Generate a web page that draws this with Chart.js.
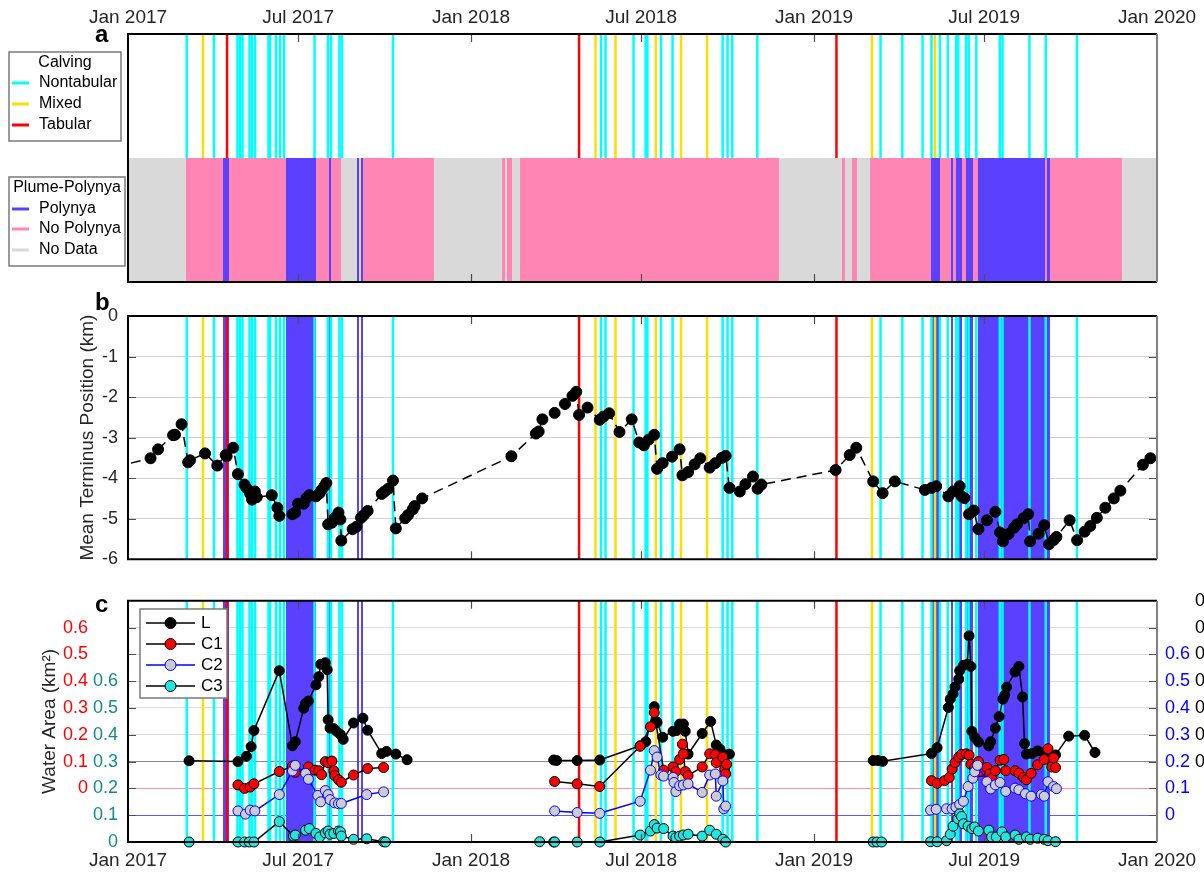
<!DOCTYPE html>
<html>
<head>
<meta charset="utf-8">
<title>Calving, plume-polynya, terminus and water area</title>
<script src="https://cdn.jsdelivr.net/npm/chart.js@4.4.1/dist/chart.umd.min.js"></script>
<style>
  html, body { margin: 0; padding: 0; overflow: hidden; background: #fff; }
  #wrap { position: relative; width: 1204px; height: 877px; overflow: hidden; }
  canvas { position: absolute; left: 0; }
</style>
</head>
<body>
<div id="wrap">
  <canvas id="panelA" width="1204" height="290" style="top:0"></canvas>
  <canvas id="panelB" width="1204" height="290" style="top:290px"></canvas>
  <canvas id="panelC" width="1240" height="297" style="top:580px"></canvas>
</div>
<script>
// days since 1 Jan 2017
const tickDays = [0, 181, 365, 546, 730, 911, 1095];
const tickLabels = ["Jan 2017", "Jul 2017", "Jan 2018", "Jul 2018", "Jan 2019", "Jul 2019", "Jan 2020"];

// calving events
const calvNontabular = [62.5, 91.5, 116.5, 119.2, 121.8, 129.3, 132, 135.2, 149.5, 151.2, 157.5, 161.8, 166,
  198.5, 212.8, 216, 225, 227.7, 282, 503.4, 508.2, 538, 550.8, 552.7, 567.2, 579.5, 632.8, 638, 643, 669.7,
  800.8, 824, 845.5, 855, 864, 872.4, 881.4, 883.5, 891.8, 894.6, 902.7, 927.7, 930.6, 959.3, 976.6, 1009.8];
const calvMixed = [79.8, 497.5, 518.8, 561.7, 588.5, 616.2, 791.7, 858.8];
const calvTabular = [105.4, 480, 753.9];

// plume-polynya status: D = no data, N = no polynya, P = polynya
const statusEdges = [0, 61.3, 101.6, 107.8, 168.1, 199.6, 213.8, 216.3, 226.9, 244, 246, 248, 250.6, 326, 398,
  401.4, 403.5, 408.5, 417.4, 692.8, 759.7, 763, 770, 776.1, 790.1, 855, 864.5, 875.8, 878.2, 881.1, 887.3,
  892.2, 898.8, 905, 975.4, 978.3, 981.6, 1057.5, 1095];
const statusCode = ["D", "N", "P", "N", "P", "N", "P", "N", "D", "P", "D", "P", "N", "D", "N",
  "D", "N", "D", "N", "D", "N", "D", "N", "D", "N", "P", "N", "P", "N", "P",
  "N", "P", "N", "P", "N", "P", "N", "D"];

// mean terminus position (km)
const termDay = [-30, 24, 32, 48, 50, 57, 64, 66, 82, 95, 104, 105, 112, 117, 124, 126, 130, 132, 135, 137,
  153, 159, 161, 175, 178, 181, 187, 190, 193, 200, 204, 206, 209, 211, 213, 217, 220, 224, 226, 227,
  239, 243, 248, 251, 255, 270, 273, 277, 282, 285, 295, 298, 303, 305, 313, 408, 434, 437, 441, 454,
  465, 473, 477, 480, 489, 502, 506, 512, 523, 536, 544, 549, 554, 560, 563, 569, 579, 587, 590, 596,
  603, 609, 619, 625, 632, 636, 640, 651, 657, 665, 670, 674, 753, 768, 775, 793, 803, 816, 848, 855,
  860, 873, 878, 885, 887, 890, 895, 900, 905, 914, 923, 928, 931, 937, 943, 946, 953, 958, 960, 969,
  975, 980, 985, 988, 1002, 1010, 1018, 1024, 1031, 1040, 1049, 1056, 1080, 1088];
const termPos = [-3.82, -3.51, -3.29, -2.94, -2.93, -2.67, -3.61, -3.56, -3.39, -3.69,
  -3.43, -3.46, -3.25, -3.90, -4.16, -4.24, -4.39, -4.53, -4.33, -4.47,
  -4.42, -4.73, -4.93, -4.89, -4.85, -4.63, -4.63, -4.49, -4.42, -4.45,
  -4.37, -4.29, -4.20, -4.12, -5.14, -5.10, -4.98, -4.85, -5.02, -5.54,
  -5.26, -5.20, -4.98, -4.91, -4.81, -4.39, -4.33, -4.26, -4.06, -5.24,
  -4.99, -4.91, -4.77, -4.69, -4.50, -3.46, -2.90, -2.85, -2.55, -2.39,
  -2.17, -1.97, -1.87, -2.44, -2.26, -2.56, -2.48, -2.40, -2.86, -2.55,
  -3.12, -3.19, -3.05, -2.93, -3.77, -3.63, -3.47, -3.29, -3.93, -3.85,
  -3.66, -3.51, -3.74, -3.63, -3.50, -3.45, -4.24, -4.33, -4.15, -3.96,
  -4.26, -4.16, -3.80, -3.43, -3.25, -4.08, -4.37, -4.08, -4.29, -4.24,
  -4.20, -4.45, -4.33, -4.20, -4.45, -4.49, -4.89, -4.80, -5.26, -5.04,
  -4.83, -5.34, -5.56, -5.38, -5.22, -5.14, -4.99, -4.89, -5.56, -5.37,
  -5.16, -5.63, -5.53, -5.45, -5.04, -5.53, -5.32, -5.18, -4.98, -4.73,
  -4.50, -4.31, -3.67, -3.51];

// water area (km2), null = gap between seasons
const dayL = [65, 117, 126, 131, 134, 161, 175, 178, 187, 189, 192, 200, 203, 205, 210, 212, 213, 215, 219, 222,
  226, 229, 240, 250, 255, 270, 275, 285, 297, 400,
  453, 456, 478, 502, 545, 551, 560, 562, 563, 569, 580, 584, 587, 591, 593, 596, 611, 620, 626, 630, 635, 640, 700,
  793, 798, 803, 855, 861, 873, 875, 878, 880, 884, 885, 889, 893, 895, 897, 898, 901, 905, 916, 918, 923, 927,
  931, 933, 935, 944, 948, 952, 954, 956, 962, 968, 975, 979, 987, 1001, 1018, 1029];
const areaL = [0.003, 0.0, 0.02, 0.056, 0.116, 0.339, 0.059, 0.074, 0.199, 0.217, 0.226, 0.286, 0.317, 0.363, 0.369,
  0.343, 0.156, 0.125, 0.123, 0.113, 0.101, 0.083, 0.144, 0.162, 0.117, 0.030, 0.038, 0.028, 0.007, null,
  0.006, 0.004, 0.004, 0.006, 0.059, 0.074, 0.205, 0.150, 0.146, 0.091, 0.113, 0.116, 0.140, 0.140, 0.113, 0.028,
  0.105, 0.150, 0.062, 0.046, 0.025, 0.028, null,
  0.004, 0.004, 0.001, 0.030, 0.052, 0.202, 0.233, 0.253, 0.278, 0.308, 0.339, 0.359, 0.363, 0.469, 0.355, 0.113,
  0.091, 0.073, 0.059, 0.074, 0.125, 0.168, 0.233, 0.248, 0.278, 0.335, 0.355, 0.241, 0.067, 0.028, 0.030, 0.040,
  0.034, 0.028, 0.025, 0.095, 0.098, 0.034];

const dayC1 = [117, 124, 130, 134, 161, 175, 178, 192, 199, 203, 206, 210, 213, 217, 219, 220, 224, 227, 240, 255, 272, 400,
  454, 478, 502, 545, 556, 560, 570, 580, 583, 587, 590, 591, 593, 596, 611, 619, 625, 626, 633, 635, 636, 637, 700,
  855, 861, 869, 874, 877, 880, 884, 887, 892, 895, 897, 901, 905, 907, 914, 917, 919, 923, 928, 932, 934, 944, 948,
  953, 956, 961, 968, 975, 979, 983, 985, 987];
const areaC1 = [0.013, 0.0, 0.005, 0.017, 0.063, 0.083, 0.060, 0.080, 0.068, 0.066, 0.051, 0.100, 0.096, 0.102, 0.066,
  0.048, 0.032, 0.023, 0.050, 0.074, 0.078, null,
  0.026, 0.017, 0.007, 0.157, 0.230, 0.283, 0.068, 0.080, 0.063, 0.108, 0.165, 0.129, 0.063, 0.048, 0.080, 0.129,
  0.126, 0.096, 0.117, 0.072, 0.054, 0.090, null,
  0.029, 0.019, 0.029, 0.041, 0.072, 0.096, 0.117, 0.127, 0.129, 0.124, 0.090, 0.078, 0.100, 0.063, 0.078, 0.054,
  0.038, 0.066, 0.105, 0.108, 0.066, 0.066, 0.057, 0.041, 0.032, 0.056, 0.088, 0.108, 0.148, 0.080, 0.114, 0.078];

const dayC2 = [117, 125, 130, 135, 161, 175, 178, 189, 192, 202, 205, 210, 213, 215, 220, 224, 227, 254, 272, 400,
  454, 478, 502, 545, 556, 560, 563, 567, 570, 580, 581, 583, 587, 591, 596, 611, 619, 625, 626, 633, 634, 636, 700,
  854, 860, 871, 877, 881, 885, 889, 894, 899, 901, 904, 914, 918, 923, 928, 934, 944, 948, 955, 961, 972, 975, 979,
  985, 988];
const areaC2 = [0.016, 0.004, 0.019, 0.016, 0.077, 0.165, 0.186, 0.156, 0.134, 0.074, 0.050, 0.092, 0.077, 0.058, 0.046,
  0.043, 0.044, 0.077, 0.087, null,
  0.016, 0.010, 0.007, 0.052, 0.168, 0.241, 0.217, 0.150, 0.146, 0.141, 0.122, 0.088, 0.110, 0.113, 0.117, 0.085,
  0.150, 0.154, 0.071, 0.128, 0.024, 0.034, null,
  0.019, 0.022, 0.024, 0.024, 0.030, 0.040, 0.052, 0.107, 0.138, 0.162, 0.186, 0.125, 0.098, 0.113, 0.122, 0.089,
  0.101, 0.095, 0.080, 0.071, 0.077, 0.071, 0.125, 0.107, 0.099];

const dayC3 = [65, 117, 124, 129, 134, 161, 176, 178, 189, 193, 200, 204, 210, 213, 215, 219, 224, 226, 227, 240, 254, 272, 274, 400,
  438, 453, 454, 478, 502, 545, 556, 560, 563, 570, 580, 583, 587, 591, 596, 611, 619, 626, 633, 636, 700,
  793, 797, 802, 854, 861, 871, 875, 878, 883, 885, 887, 889, 894, 898, 901, 905, 916, 919, 924, 930, 934, 944, 948,
  956, 960, 968, 975, 979, 987];
const areaC3 = [0, 0, 0, 0, 0, 0.076, 0.022, 0.026, 0.044, 0.050, 0.032, 0.019, 0.034, 0.041, 0.029, 0.032, 0.041, 0.038,
  0.022, 0.010, 0.012, 0.001, 0, null,
  0.001, 0, 0, 0, 0, 0.026, 0.041, 0.065, 0.052, 0.050, 0.022, 0.016, 0.022, 0.026, 0.029, 0.022, 0.044, 0.029, 0.010, 0, null,
  0, 0, 0, 0.001, 0.001, 0.005, 0.029, 0.059, 0.087, 0.105, 0.095, 0.068, 0.059, 0.050, 0.056, 0.041, 0.044, 0.019,
  0.019, 0.038, 0.019, 0.026, 0.010, 0.019, 0.010, 0.014, 0.010, 0.005, 0.001];

const FONT = "'Liberation Sans', Arial, Helvetica, sans-serif";
const calvColor = { non: "#00ffff", mixed: "#ffdd00", tab: "#ff0000" };
const statusColor = { P: "#5a40ff", N: "#ff85b5", D: "#d9d9d9" };
const teal = "#138a8c";

Chart.defaults.font.family = FONT;
Chart.defaults.font.size = 18;
Chart.defaults.color = "#262626";
Chart.defaults.animation = false;
Chart.defaults.plugins.legend.display = false;
Chart.defaults.plugins.tooltip.enabled = false;

function timeAxis(show, position, height) {
  return {
    type: "linear", min: 0, max: 1095, position: position || "bottom", display: show,
    grid: { display: false, drawTicks: false },
    border: { display: false },
    afterBuildTicks: (s) => { s.ticks = tickDays.map((v) => ({ value: v })); },
    afterFit: (s) => { if (height) s.height = height; },
    ticks: {
      maxRotation: 0, autoSkip: false, padding: position === "top" ? 5 : 7,
      font: { size: 19 },
      callback: (v, i) => tickLabels[i],
    },
  };
}

// status bands + calving lines, under the data
const backdrop = {
  id: "backdrop",
  beforeDatasetsDraw(chart, args, opts) {
    const { ctx, chartArea: a, scales } = chart;
    const x = scales.x;
    let bandTop = a.top, bandBottom = a.bottom, lineTop = a.top, lineBottom = a.bottom;
    if (opts.split) {
      bandTop = scales.y.getPixelForValue(1);
      bandBottom = scales.y.getPixelForValue(0);
      lineTop = scales.y.getPixelForValue(2);
      lineBottom = bandTop;
    }
    ctx.save();
    ctx.beginPath();
    ctx.rect(a.left, a.top, a.width, a.height);
    ctx.clip();
    statusCode.forEach((code, i) => {
      if (!opts.split && code !== "P") return;
      const x0 = Math.round(x.getPixelForValue(statusEdges[i]));
      const x1 = Math.round(x.getPixelForValue(statusEdges[i + 1]));
      ctx.fillStyle = statusColor[code];
      ctx.fillRect(x0, bandTop, Math.max(x1 - x0, 1), bandBottom - bandTop);
    });
    ctx.lineWidth = 2.5;
    [[calvNontabular, calvColor.non], [calvMixed, calvColor.mixed], [calvTabular, calvColor.tab]].forEach(([days, col]) => {
      ctx.strokeStyle = col;
      days.forEach((d) => {
        const px = x.getPixelForValue(d);
        ctx.beginPath();
        ctx.moveTo(px, lineTop);
        ctx.lineTo(px, lineBottom);
        ctx.stroke();
      });
    });
    ctx.restore();
  },
};

// box, inward ticks, panel letter
const frame = {
  id: "frame",
  afterDraw(chart, args, opts) {
    const { ctx, chartArea: a, scales } = chart;
    ctx.save();
    ctx.strokeStyle = "#4d4d4d";
    ctx.lineWidth = 1.2;
    tickDays.slice(1, -1).forEach((d) => {
      const px = Math.round(scales.x.getPixelForValue(d)) + 0.5;
      ctx.beginPath();
      ctx.moveTo(px, a.top); ctx.lineTo(px, a.top + 8);
      ctx.moveTo(px, a.bottom); ctx.lineTo(px, a.bottom - 8);
      ctx.stroke();
    });
    if (opts.yAxis) {
      const ys = scales[opts.yAxis];
      ys.ticks.forEach((t) => {
        const py = Math.round(ys.getPixelForValue(t.value)) + 0.5;
        if (py <= a.top + 2 || py >= a.bottom - 2) return;
        ctx.beginPath();
        ctx.moveTo(a.left, py); ctx.lineTo(a.left + 8, py);
        ctx.moveTo(a.right, py); ctx.lineTo(a.right - 8, py);
        ctx.stroke();
      });
    }
    ctx.lineWidth = 2;
    ctx.strokeStyle = "#000";
    ctx.beginPath();
    ctx.moveTo(a.right, a.top); ctx.lineTo(a.left, a.top);
    ctx.lineTo(a.left, a.bottom); ctx.lineTo(a.right, a.bottom);
    ctx.stroke();
    ctx.strokeStyle = "#808080";
    ctx.beginPath();
    ctx.moveTo(a.right, a.top); ctx.lineTo(a.right, a.bottom);
    ctx.stroke();
    ctx.fillStyle = "#000";
    ctx.font = "bold 24px " + FONT;
    ctx.textAlign = "left";
    ctx.textBaseline = "alphabetic";
    ctx.fillText(opts.letter, 95, opts.letterY);
    ctx.restore();
  },
};

function legendBox(ctx, box, title, items) {
  ctx.save();
  ctx.fillStyle = "#fff";
  ctx.fillRect(box.x, box.y, box.w, box.h);
  ctx.strokeStyle = "#7a7a7a";
  ctx.lineWidth = 1.5;
  ctx.strokeRect(box.x, box.y, box.w, box.h);
  ctx.font = (box.size || 16) + "px " + FONT;
  ctx.textBaseline = "middle";
  ctx.fillStyle = "#000";
  if (title) {
    ctx.textAlign = "center";
    ctx.fillText(title, box.x + box.w / 2, box.y + 11);
  }
  ctx.textAlign = "left";
  items.forEach((it) => {
    ctx.strokeStyle = it.line;
    ctx.lineWidth = it.lineWidth || 3;
    ctx.beginPath();
    ctx.moveTo(box.x + box.lx0, it.y);
    ctx.lineTo(box.x + box.lx1, it.y);
    ctx.stroke();
    if (it.fill) {
      ctx.beginPath();
      ctx.arc(box.x + (box.lx0 + box.lx1) / 2, it.y, 5.5, 0, Math.PI * 2);
      ctx.fillStyle = it.fill;
      ctx.fill();
      ctx.lineWidth = 1;
      ctx.strokeStyle = it.edge;
      ctx.stroke();
    }
    ctx.fillStyle = "#000";
    ctx.fillText(it.label, box.x + box.tx, it.y);
  });
  ctx.restore();
}

const legendA = {
  id: "legendA",
  afterDraw(chart) {
    const ctx = chart.ctx;
    legendBox(ctx, { x: 9, y: 52, w: 112, h: 89, lx0: 3, lx1: 20, tx: 30 }, "Calving", [
      { label: "Nontabular", line: calvColor.non, y: 83 },
      { label: "Mixed", line: calvColor.mixed, y: 104 },
      { label: "Tabular", line: calvColor.tab, y: 125 },
    ]);
    legendBox(ctx, { x: 9, y: 177, w: 116, h: 89, lx0: 3, lx1: 20, tx: 30 }, "Plume-Polynya", [
      { label: "Polynya", line: statusColor.P, y: 209 },
      { label: "No Polynya", line: statusColor.N, y: 229 },
      { label: "No Data", line: statusColor.D, y: 250 },
    ]);
  },
};

const legendC = {
  id: "legendC",
  afterDraw(chart) {
    legendBox(chart.ctx, { x: 140, y: 29, w: 87, h: 89, lx0: 6, lx1: 55, tx: 61, size: 17 }, null, [
      { label: "L", line: "#000", lineWidth: 1.5, fill: "#000", edge: "#000", y: 43 },
      { label: "C1", line: "#000", lineWidth: 1.5, fill: "#ff0000", edge: "#000", y: 64 },
      { label: "C2", line: "#0000ff", lineWidth: 1.5, fill: "#cccccc", edge: "#0000ff", y: 85 },
      { label: "C3", line: "#000", lineWidth: 1.5, fill: "#22e5e0", edge: "#000", y: 106 },
    ]);
  },
};

// panel a
new Chart(document.getElementById("panelA"), {
  type: "line",
  data: { datasets: [] },
  options: {
    responsive: false,
    layout: { padding: { left: 128, right: 47, top: 0, bottom: 8 } },
    scales: {
      x: timeAxis(true, "top", 34),
      y: { display: false, min: 0, max: 2 },
    },
    plugins: { backdrop: { split: true }, frame: { letter: "a", letterY: 42 } },
  },
  plugins: [backdrop, frame, legendA],
});

// panel b
new Chart(document.getElementById("panelB"), {
  type: "line",
  data: {
    datasets: [{
      data: termDay.map((d, i) => ({ x: d, y: termPos[i] })),
      borderColor: "#000",
      borderWidth: 1.5,
      borderDash: [10, 6],
      pointRadius: 5.5,
      pointBackgroundColor: "#000",
      pointBorderColor: "#000",
      pointBorderWidth: 1,
    }],
  },
  options: {
    responsive: false,
    layout: { padding: { left: 0, right: 47, top: 26, bottom: 18 } },
    scales: {
      x: timeAxis(false),
      y: {
        min: -6, max: 0,
        afterFit: (s) => { s.width = 128; },
        grid: { color: "#d0d0d0", drawTicks: false },
        border: { display: false },
        ticks: { stepSize: 1, padding: 10 },
        title: { display: true, text: "Mean Terminus Position (km)", padding: { top: 76, bottom: 0 }, font: { size: 19 } },
      },
    },
    plugins: { backdrop: { split: false }, frame: { letter: "b", letterY: 20, yAxis: "y" } },
  },
  plugins: [backdrop, frame],
});

// panel c
function areaLabel(v) {
  if (v < -1e-6 || v > 0.6 + 1e-6) return "";
  return Math.abs(v) < 1e-6 ? "0" : v.toFixed(1);
}
function valueAxis(position, weight, min, max, width, padding, color, extra) {
  return Object.assign({
    position, weight, min, max,
    afterFit: (s) => { s.width = width; },
    grid: { display: false, drawTicks: false },
    border: { display: false },
    ticks: { stepSize: 0.1, padding, color, callback: areaLabel },
  }, extra || {});
}
function areaSet(days, vals, axis, line, fill, edge, order) {
  return {
    data: days.map((d, i) => ({ x: d, y: vals[i] })),
    yAxisID: axis, order, clip: false,
    borderColor: line, borderWidth: 1.5,
    pointRadius: 5, pointBackgroundColor: fill, pointBorderColor: edge, pointBorderWidth: 1,
  };
}

new Chart(document.getElementById("panelC"), {
  type: "line",
  data: {
    datasets: [
      areaSet(dayL, areaL, "yL", "#000", "#000", "#000", 4),
      areaSet(dayC1, areaC1, "yC1", "#000", "#ff0000", "#000", 3),
      areaSet(dayC2, areaC2, "yC2", "#0000ff", "#cccccc", "#0000ff", 2),
      areaSet(dayC3, areaC3, "yC3", "#000", "#22e5e0", "#000", 1),
    ],
  },
  options: {
    responsive: false,
    layout: { padding: { left: 0, right: 0, top: 16, bottom: 0 } },
    scales: {
      x: timeAxis(true, "bottom", 35),
      yC3: valueAxis("left", 0, 0, 0.9, 39, 10, teal),
      yC1: valueAxis("left", 1, -0.2, 0.7, 89, 1, "#ff0000", {
        title: { display: true, text: "Water Area (km²)", color: "#262626", padding: { top: 38, bottom: 0 }, font: { size: 19 } },
      }),
      yC2: valueAxis("right", 0, -0.1, 0.8, 38, 8, "#0000ff"),
      yL: valueAxis("right", 1, -0.3, 0.6, 45, 0, "#000", {
        grid: {
          drawTicks: false,
          color: (c) => {
            const v = Math.round(c.tick.value * 10);
            if (v === -3) return "rgba(0,0,0,0)";
            if (v === -1) return "#ff8ab4";
            if (v === -2) return "#5b5bff";
            if (v === 0) return "#8a8a8a";
            return "#d9d9d9";
          },
        },
      }),
    },
    plugins: { backdrop: { split: false }, frame: { letter: "c", letterY: 32, yAxis: "yL" } },
  },
  plugins: [backdrop, frame, legendC],
});
</script>
</body>
</html>
